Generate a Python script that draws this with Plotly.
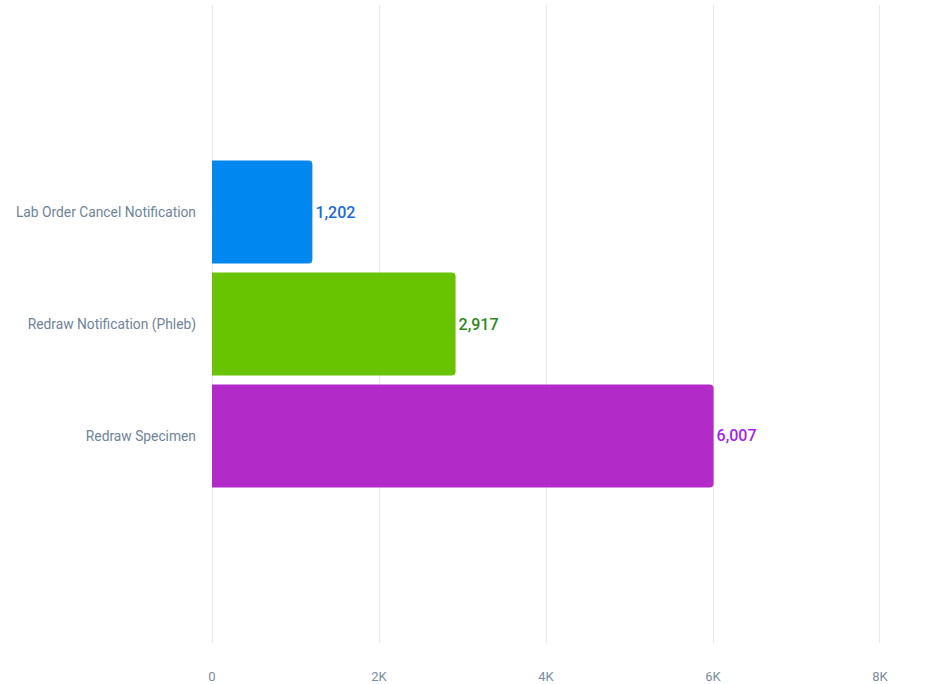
import plotly.graph_objects as go

categories = ["Lab Order Cancel Notification", "Redraw Notification (Phleb)", "Redraw Specimen"]
values = [1202, 2917, 6007]
bar_colors = ["#0088f0", "#68c400", "#b22ac8"]
label_colors = ["#1a6ad8", "#2a8a1a", "#a61ff0"]
x_tickvals = [0, 2000, 4000, 6000, 8000]
x_ticktext = ["0", "2K", "4K", "6K", "8K"]

fig = go.Figure(go.Bar(
    y=categories,
    x=values,
    orientation="h",
    marker=dict(color=bar_colors, line=dict(width=0)),
    texttemplate="%{x:,}",
    textposition="outside",
    outsidetextfont=dict(color=label_colors, size=16, family="Roboto", weight=500),
    cliponaxis=False,
    width=0.92,
))

fig.update_layout(
    width=934, height=684,
    margin=dict(l=208, r=50, t=5, b=41),
    paper_bgcolor="white",
    plot_bgcolor="white",
    barcornerradius=4,
    showlegend=False,
    font=dict(family="Roboto", color="#7a8ca0"),
    xaxis=dict(
        range=[-48, 8048],
        tickvals=x_tickvals,
        ticktext=x_ticktext,
        showgrid=True,
        gridcolor="#e8e8e8",
        gridwidth=1,
        zeroline=False,
        showline=False,
        automargin=False,
        tickfont=dict(size=13, color="#7a8ca0"),
        ticklabelstandoff=24,
    ),
    yaxis=dict(
        categoryorder="array",
        categoryarray=categories,
        range=[3.85, -1.85],
        showgrid=False,
        zeroline=False,
        showline=False,
        automargin=False,
        tickfont=dict(size=13.8, color="#6f8399"),
        ticklabelstandoff=11,
    ),
)

fig.write_html("out.html")
